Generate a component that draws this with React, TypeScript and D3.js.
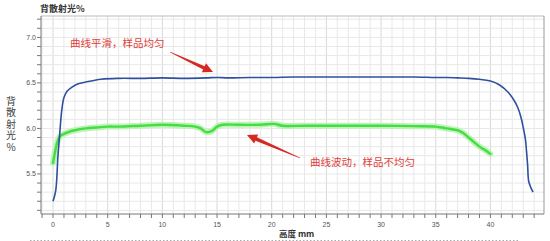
import React from "react";
import * as d3 from "d3";

const W = 550;
const H = 241;

const blueX = [0, 0.25, 0.45, 0.65, 0.8, 1.0, 1.3, 1.7, 2.3, 3, 4.4, 6, 8, 10, 12, 14, 15, 16, 18, 20, 22, 25, 28, 30, 33, 35, 36, 37, 38, 39, 40, 40.8, 41.6, 42.1, 42.5, 42.8, 43.0, 43.2, 43.3, 43.4, 43.5, 43.7, 43.9];
const blueY = [5.2, 5.32, 5.7, 6.0, 6.2, 6.34, 6.41, 6.45, 6.49, 6.51, 6.54, 6.55, 6.55, 6.555, 6.55, 6.555, 6.56, 6.555, 6.56, 6.56, 6.565, 6.565, 6.565, 6.565, 6.565, 6.56, 6.56, 6.555, 6.55, 6.54, 6.52, 6.48, 6.4, 6.32, 6.23, 6.12, 6.01, 5.88, 5.75, 5.6, 5.42, 5.35, 5.3];

const greenX = [0, 0.2, 0.45, 0.7, 1, 1.4, 2, 3, 4, 5, 6, 8, 10, 12, 13, 13.5, 14, 14.5, 15, 15.5, 17, 19, 20.2, 21, 23, 25, 28, 30, 33, 35, 36, 37, 37.5, 38, 38.5, 39, 39.4, 40];
const greenY = [5.62, 5.75, 5.87, 5.92, 5.94, 5.96, 5.98, 6.0, 6.01, 6.02, 6.02, 6.03, 6.04, 6.03, 6.02, 6.0, 5.96, 5.97, 6.02, 6.04, 6.04, 6.04, 6.05, 6.03, 6.03, 6.03, 6.03, 6.03, 6.025, 6.02, 6.0, 5.98, 5.95, 5.9, 5.85, 5.8, 5.77, 5.72];

const xTickLabels = [0, 5, 10, 15, 20, 25, 30, 35, 40];
const yTickLabels = [5.5, 6.0, 6.5, 7.0];

const yTitle = "背散射光%";
const yAxisLabel = "背散射光%";
const xTitle = "高度 mm";
const note1 = "曲线平滑，样品均匀";
const note2 = "曲线波动，样品不均匀";

const left = 41, right = 544, top = 16, bottom = 214;

export default function App() {
  const x = d3.scaleLinear().domain([-1.1, 44.9]).range([left, right]);
  const y = d3.scaleLinear().domain([5.06, 7.235]).range([bottom, top]);

  const line = d3
    .line<[number, number]>()
    .x((d) => x(d[0]))
    .y((d) => y(d[1]))
    .curve(d3.curveCatmullRom);

  const blue = line(blueX.map((v, i) => [v, blueY[i]] as [number, number])) || "";
  const green = line(greenX.map((v, i) => [v, greenY[i]] as [number, number])) || "";

  const xGrid = d3.range(-1, 45, 1);
  const yGrid = d3.range(5.1, 7.24, 0.1);

  const cjk = "'Noto Sans CJK SC', sans-serif";
  const num = "'Liberation Sans', Arial, sans-serif";

  const arrow = (x1: number, y1: number, x2: number, y2: number) => {
    const dx = x2 - x1, dy = y2 - y1;
    const len = Math.hypot(dx, dy);
    const ux = dx / len, uy = dy / len;
    const px = -uy, py = ux;
    const headL = 10, headW = 5, shaftW = 1.8;
    const bx = x2 - ux * headL, by = y2 - uy * headL;
    const pts = [
      [x1 + px * 0.4, y1 + py * 0.4],
      [bx + px * shaftW, by + py * shaftW],
      [bx + px * headW, by + py * headW],
      [x2, y2],
      [bx - px * headW, by - py * headW],
      [bx - px * shaftW, by - py * shaftW],
      [x1 - px * 0.4, y1 - py * 0.4],
    ];
    return pts.map((p) => p.join(",")).join(" ");
  };

  return (
    <svg width={W} height={H} style={{ position: "absolute", left: 0, top: 0, background: "#fff" }}>
      {/* grid */}
      {xGrid.map((g) => (
        <line key={"xg" + g} x1={x(g)} x2={x(g)} y1={top} y2={bottom} stroke={g % 5 === 0 ? "#d8d8d8" : "#e8e8e8"} strokeWidth={1} />
      ))}
      {yGrid.map((g, i) => (
        <line key={"yg" + i} x1={left} x2={right} y1={y(g)} y2={y(g)} stroke={"#e8e8e8"} strokeWidth={1} />
      ))}
      {/* frame */}
      <line x1={left} x2={right} y1={top} y2={top} stroke="#bbb" />
      <line x1={right} x2={right} y1={top} y2={bottom} stroke="#999" />
      <line x1={left} x2={left} y1={top} y2={bottom} stroke="#777" />
      <line x1={left} x2={right} y1={bottom} y2={bottom} stroke="#777" />

      {/* y ticks */}
      {yGrid.map((g, i) => (
        <line key={"yt" + i} x1={left - 4} x2={left} y1={y(g)} y2={y(g)} stroke="#777" />
      ))}
      {yTickLabels.map((t) => (
        <text key={"yl" + t} x={left - 5} y={y(t) + 2.5} fontSize={7} fontFamily={num} fill="#555" textAnchor="end">
          {t.toFixed(1)}
        </text>
      ))}
      {/* x ticks */}
      {xGrid.map((g) => (
        <line key={"xt" + g} x1={x(g)} x2={x(g)} y1={bottom} y2={bottom + 4} stroke="#777" />
      ))}
      {xTickLabels.map((t) => (
        <text key={"xl" + t} x={x(t)} y={bottom + 13} fontSize={7} fontFamily={num} fill="#555" textAnchor="middle">
          {t}
        </text>
      ))}

      {/* titles */}
      <text x={40} y={12} fontSize={9} fontWeight="bold" fontFamily={cjk} fill="#333">
        {yTitle}
      </text>
      <text
        x={11}
        y={96}
        fontSize={10}
        fontFamily={cjk}
        fill="#444"
        style={{ writingMode: "vertical-rl", textOrientation: "upright", letterSpacing: "1.5px" } as React.CSSProperties}
      >
        {yAxisLabel}
      </text>
      <text x={279} y={237} fontSize={8.5} fontWeight="bold" fontFamily={cjk} fill="#333">
        {xTitle}
      </text>
      <line x1={30} x2={520} y1={240.5} y2={240.5} stroke="#aaa" strokeDasharray="1.5,2" />

      {/* series */}
      <path d={green} fill="none" stroke="#b8f2b0" strokeWidth={6} strokeLinejoin="round" strokeLinecap="round" opacity={0.9} />
      <path d={green} fill="none" stroke="#44dd44" strokeWidth={2.4} strokeLinejoin="round" strokeLinecap="round" />
      <path d={blue} fill="none" stroke="#2f4f9f" strokeWidth={1.6} strokeLinejoin="round" />

      {/* annotations */}
      <text x={70} y={47} fontSize={10.5} fontFamily={cjk} fill="#e0403a">
        {note1}
      </text>
      <polygon points={arrow(170, 52, 213, 72)} fill="#d42a22" />
      <text x={310} y={166} fontSize={10.5} fontFamily={cjk} fill="#e0403a">
        {note2}
      </text>
      <polygon points={arrow(300, 158, 247, 135)} fill="#d42a22" />
    </svg>
  );
}
